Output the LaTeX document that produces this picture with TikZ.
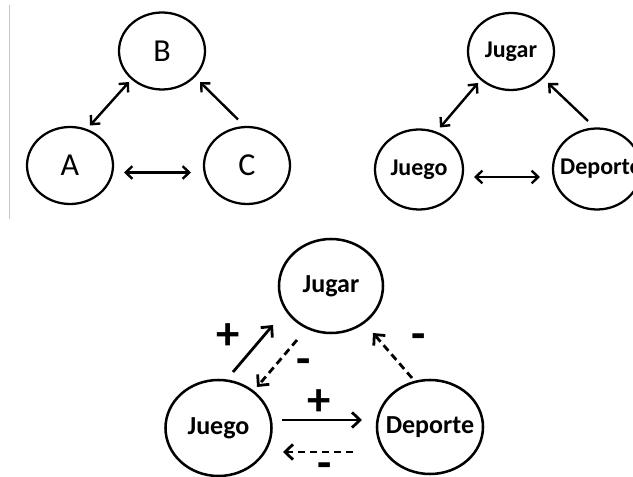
\documentclass[tikz,border=0pt]{standalone}
\usepackage{fontspec}
\setmainfont{Carlito}
\usetikzlibrary{shapes.geometric,arrows.meta,calc}

% text that does not widen the ellipse around it
\newcommand\slimtext[1]{\makebox[0pt]{#1}}

\tikzset{
  bubble/.style={draw, ellipse, line width=1.7pt, inner sep=0pt},
  smallbubble/.style={bubble, minimum width=64.5pt, minimum height=57.75pt},
  bigbubble/.style={bubble, line width=1.9pt, minimum width=78pt, minimum height=70.5pt},
  letter/.style={font=\fontsize{24}{24}\selectfont},
  word/.style={font=\bfseries\fontsize{18}{18}\selectfont},
  bigword/.style={font=\bfseries\fontsize{19.5}{19.5}\selectfont},
  sign/.style={font=\bfseries\fontsize{35}{35}\selectfont, inner sep=0pt},
  barb/.tip={Straight Barb[length=5pt,width=9.5pt]},
  bigbarb/.tip={Straight Barb[length=6pt,width=11.5pt]},
  oneway/.style={line width=1.8pt, -barb},
  twoway/.style={line width=1.8pt, barb-barb},
  plusarrow/.style={line width=2.1pt, -bigbarb},
  minusarrow/.style={plusarrow, dash pattern=on 5.5pt off 3.5pt},
}

\begin{document}
\begin{tikzpicture}[x=0.75pt, y=-0.75pt]
  \useasboundingbox (0,0) rectangle (633,477);
  \clip (0,0) rectangle (633,477);

  % faint frame edge on the left
  \draw[line width=0.75pt, black!22] (9.5,5) -- (9.5,219);

  % --- abstract triangle A, B, C ---
  \node[smallbubble, letter] (B) at (162,51) {B};
  \node[smallbubble, letter] (A) at (70,165.5) {A};
  \node[smallbubble, letter] (C) at (247,165.5) {C};

  \draw[twoway] ($(A)+(20,-40)$) -- ($(B)+(-33,31)$);
  \draw[oneway] ($(C)+(-9,-46)$) -- ($(B)+(38,31)$);
  \draw[twoway] ($(A)+(54,7)$) -- ($(C)+(-56,7)$);

  % --- same triangle with words ---
  \node[smallbubble, word] (J1) at (511,51.5) {\slimtext{Jugar}};
  \node[smallbubble, word, minimum width=66pt, minimum height=60pt] (G1) at (419,169.5) {\slimtext{Juego}};
  \node[smallbubble, word, minimum width=66pt, minimum height=60.75pt] (D1) at (597,169) {\slimtext{\hspace*{6pt}Deporte}};

  \draw[twoway] ($(G1)+(21,-42)$) -- ($(J1)+(-33,31.5)$);
  \draw[oneway] ($(D1)+(-9,-48)$) -- ($(J1)+(37,31.5)$);
  \draw[twoway] ($(G1)+(55,7.5)$) -- ($(D1)+(-57,8)$);

  % --- signed causal loop ---
  \node[bigbubble, bigword] (J2) at (331,286) {\slimtext{Jugar}};
  \node[bigbubble, bigword, minimum width=79.5pt, minimum height=72pt] (G2) at (218.5,428) {\slimtext{Juego}};
  \node[bigbubble, bigword, minimum width=79.5pt, minimum height=70.5pt] (D2) at (430,427) {\slimtext{Deporte}};

  \draw[plusarrow] ($(G2)+(14.5,-56)$) -- ($(J2)+(-58,39)$);
  \draw[minusarrow] ($(J2)+(-34,54)$) -- ($(G2)+(38.5,-41)$);
  \draw[minusarrow] ($(D2)+(-18,-49)$) -- ($(J2)+(42,47)$);
  \draw[plusarrow] ($(G2)+(63.5,-8)$) -- ($(D2)+(-68,-7)$);
  \draw[minusarrow] ($(D2)+(-77,25)$) -- ($(G2)+(64.5,24)$);

  \node[sign] (p1) at (228,337) {+};
  \node[sign] (m1) at (304,367) {-};
  \node[sign] (m2) at (419,342) {-};
  \node[sign] (p2) at (319,403) {+};
  \node[sign] (m3) at (325,471) {-};
\end{tikzpicture}
\end{document}
